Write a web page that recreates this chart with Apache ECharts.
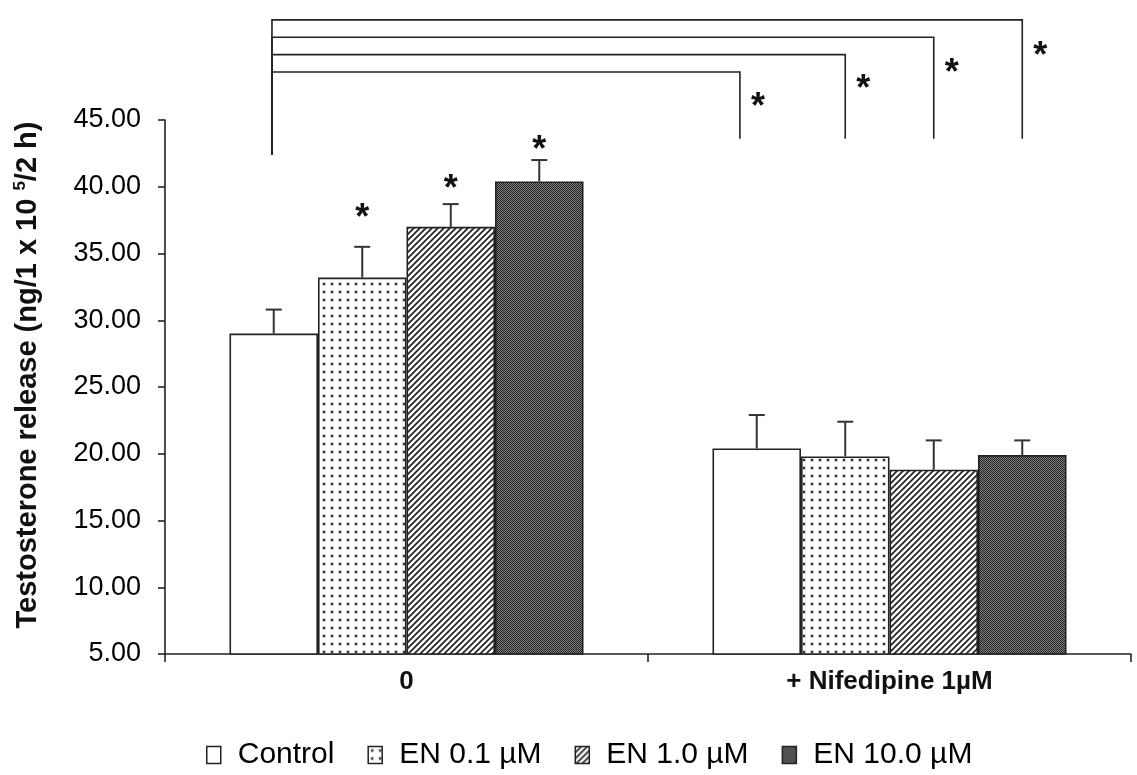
<!DOCTYPE html>
<html>
<head>
<meta charset="utf-8">
<script src="https://cdn.jsdelivr.net/npm/echarts@6/dist/echarts.min.js"></script>
<style>
html,body{margin:0;padding:0;background:#fff;}
#chart{width:1137px;height:775px;}
</style>
</head>
<body>
<div id="chart"></div>
<script>
// ---- data ----
const categories = ['0', '+ Nifedipine 1µM'];
const seriesNames = ['Control', 'EN 0.1 µM', 'EN 1.0 µM', 'EN 10.0 µM'];
const controlVals = [29.0, 20.4];
const en01Vals = [33.2, 19.8];
const en1Vals = [37.0, 18.8];
const en10Vals = [40.4, 19.9];
const controlErr = [1.8, 2.5];
const en01Err = [2.3, 2.6];
const en1Err = [1.7, 2.2];
const en10Err = [1.6, 1.1];
const yTickValues = [5, 10, 15, 20, 25, 30, 35, 40, 45];
// significance stars over single bars: [category, bar index, value]
const barStars = [[0, 1, 38.4], [0, 2, 40.6], [0, 3, 43.5]];
// brackets: [fromCat, fromPos, toCat, toPos, levelValue, leftBottom, rightBottom, starValue]
const brackets = [
  [0, 0.48, 1, 0.31, 48.6, 42.4, 43.6, 46.7],
  [0, 0.48, 1, 1.5, 49.9, 42.4, 43.6, 48.1],
  [0, 0.48, 1, 2.5, 51.2, 42.4, 43.6, 49.3],
  [0, 0.48, 1, 3.5, 52.5, 42.4, 43.6, 50.5]
];

const allVals = [controlVals, en01Vals, en1Vals, en10Vals];
const allErr = [controlErr, en01Err, en1Err, en10Err];
const CAT_GAP = 0.267;
const FONT = "'Liberation Sans', Arial, Helvetica, sans-serif";

// ---- patterns ----
function makeCanvas(w, h) { const c = document.createElement('canvas'); c.width = w; c.height = h; return c; }
function dotPattern() {
  const c = makeCanvas(8, 8), g = c.getContext('2d');
  g.fillStyle = '#fff'; g.fillRect(0, 0, 8, 8);
  g.fillStyle = '#999'; g.fillRect(2.5, 2.5, 3, 3);
  g.fillStyle = '#333'; g.fillRect(3, 3, 2, 2);
  return c;
}
function diagPattern() {
  const s = 6, c = makeCanvas(s, s), g = c.getContext('2d');
  g.fillStyle = '#fff'; g.fillRect(0, 0, s, s);
  g.strokeStyle = '#222'; g.lineWidth = 1.7;
  g.beginPath();
  g.moveTo(-1, s + 1); g.lineTo(s + 1, -1);
  g.moveTo(-1, 1); g.lineTo(1, -1);
  g.moveTo(s - 1, s + 1); g.lineTo(s + 1, s - 1);
  g.stroke();
  return c;
}
function darkPattern() {
  const c = makeCanvas(2, 2), g = c.getContext('2d');
  g.fillStyle = '#808080'; g.fillRect(0, 0, 2, 2);
  g.fillStyle = '#222'; g.fillRect(0, 0, 1, 1); g.fillRect(1, 1, 1, 1);
  return c;
}
const fills = [
  '#ffffff',
  { image: dotPattern(), repeat: 'repeat' },
  { image: diagPattern(), repeat: 'repeat' },
  { image: darkPattern(), repeat: 'repeat' }
];

function barCenterX(api, cat, pos) {
  const bw = api.size([1, 0])[0];
  const gw = bw * (1 - CAT_GAP);
  const barW = gw / 4;
  const cx = api.coord([cat, 5])[0];
  return cx - gw / 2 + barW * pos;
}

const barSeries = seriesNames.map((name, i) => ({
  name: name,
  type: 'bar',
  data: allVals[i],
  barGap: '0%',
  barCategoryGap: (CAT_GAP * 100) + '%',
  itemStyle: { color: fills[i], borderColor: '#222', borderWidth: 1.6 },
  emphasis: { disabled: true },
  animation: false
}));

const errData = [];
allVals.forEach((vals, i) => vals.forEach((v, c) => errData.push([c, i, v, allErr[i][c]])));

const errSeries = {
  type: 'custom',
  silent: true,
  animation: false,
  z: 5,
  data: errData,
  encode: { x: 0, y: 2 },
  renderItem: function (params, api) {
    const cat = api.value(0), idx = api.value(1), v = api.value(2), e = api.value(3);
    const x = barCenterX(api, cat, idx + 0.5);
    const y0 = api.coord([cat, v])[1];
    const y1 = api.coord([cat, v + e])[1];
    const style = { stroke: '#333', lineWidth: 2, fill: null };
    return { type: 'group', children: [
      { type: 'line', shape: { x1: x, y1: y0, x2: x, y2: y1 }, style: style },
      { type: 'line', shape: { x1: x - 8, y1: y1, x2: x + 8, y2: y1 }, style: style }
    ] };
  }
};

const starSeries = {
  type: 'custom',
  silent: true,
  animation: false,
  z: 6,
  data: barStars,
  encode: { x: 0, y: 2 },
  renderItem: function (params, api) {
    const cat = api.value(0), idx = api.value(1), v = api.value(2);
    const x = barCenterX(api, cat, idx + 0.5);
    const y = api.coord([cat, v])[1];
    return { type: 'text', style: { text: '*', x: x, y: y + 11, align: 'center', verticalAlign: 'middle', font: 'bold 36px ' + FONT, fill: '#111' } };
  }
};

const bracketSeries = {
  type: 'custom',
  silent: true,
  animation: false,
  clip: false,
  z: 6,
  data: brackets,
  encode: { x: 0, y: 4 },
  renderItem: function (params, api) {
    const c0 = api.value(0), p0 = api.value(1), c1 = api.value(2), p1 = api.value(3);
    const lv = api.value(4), lb = api.value(5), rb = api.value(6), sv = api.value(7);
    const x0 = barCenterX(api, c0, p0);
    const x1 = barCenterX(api, c1, p1);
    const yl = api.coord([c0, lv])[1];
    const ylb = api.coord([c0, lb])[1];
    const yrb = api.coord([c1, rb])[1];
    const ys = api.coord([c1, sv])[1];
    const style = { stroke: '#222', lineWidth: 1.6, fill: null };
    return { type: 'group', children: [
      { type: 'polyline', shape: { points: [[x0, ylb], [x0, yl], [x1, yl], [x1, yrb]] }, style: style },
      { type: 'text', style: { text: '*', x: x1 + 18, y: ys + 11, align: 'center', verticalAlign: 'middle', font: 'bold 36px ' + FONT, fill: '#111' } }
    ] };
  }
};

const chart = echarts.init(document.getElementById('chart'), null, { renderer: 'canvas' });
chart.setOption({
  backgroundColor: '#fff',
  animation: false,
  textStyle: { fontFamily: FONT },
  grid: { left: 165, right: 6, top: 120, bottom: 121, containLabel: false },
  legend: {
    data: seriesNames,
    top: 735,
    left: 201,
    itemWidth: 14,
    itemHeight: 17,
    itemGap: 33,
    icon: 'rect',
    itemStyle: { borderColor: '#222', borderWidth: 1.5 },
    textStyle: { fontSize: 30, color: '#000', fontFamily: FONT, padding: [0, 0, 0, 12] },
    selectedMode: false
  },
  xAxis: {
    type: 'category',
    data: categories,
    axisLine: { lineStyle: { color: '#222', width: 1.6 } },
    axisTick: { show: true, length: 8, lineStyle: { color: '#222', width: 1.6 } },
    axisLabel: { fontSize: 26, fontWeight: 'bold', color: '#111', margin: 15, fontFamily: FONT },
    splitLine: { show: false }
  },
  yAxis: {
    type: 'value',
    min: 5,
    max: 45,
    interval: 5,
    name: 'Testosterone release (ng/1 x 10 {sup|5}/2 h)',
    nameLocation: 'middle',
    nameRotate: 90,
    nameGap: 121,
    nameTextStyle: {
      fontSize: 29, fontWeight: 'bold', color: '#111', fontFamily: FONT, lineHeight: 32,
      padding: [0, 0, 0, 24],
      rich: { sup: { fontSize: 17, fontWeight: 'bold', verticalAlign: 'top', lineHeight: 32, padding: [0, 0, 12, 0] } }
    },
    axisLine: { show: true, lineStyle: { color: '#222', width: 1.6 } },
    axisTick: { show: true, length: 7, lineStyle: { color: '#222', width: 1.6 } },
    axisLabel: {
      fontSize: 27, color: '#000', margin: 24, fontFamily: FONT,
      formatter: function (v) { return yTickValues.indexOf(v) >= 0 ? v.toFixed(2) : ''; }
    },
    splitLine: { show: false }
  },
  series: barSeries.concat([errSeries, starSeries, bracketSeries])
});
</script>
</body>
</html>
